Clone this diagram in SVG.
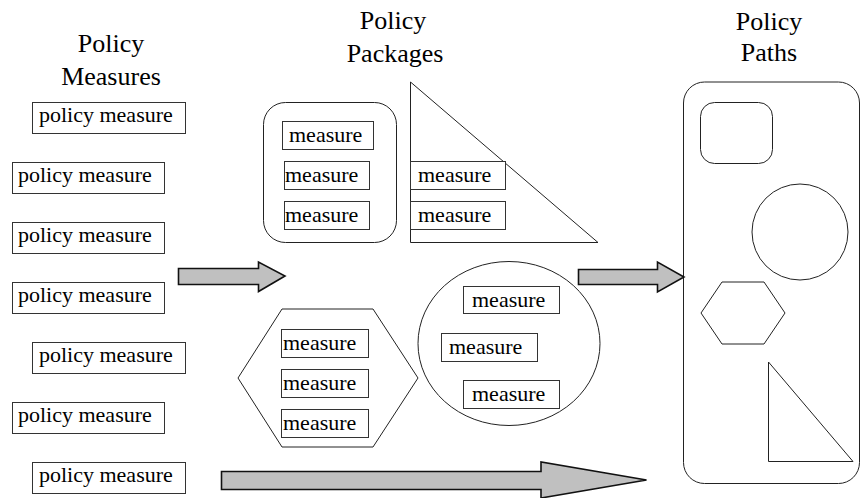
<svg xmlns="http://www.w3.org/2000/svg" width="860" height="498" viewBox="0 0 860 498" font-family="'Liberation Serif', 'Times New Roman', serif">
<style>
.h{font-size:26px;text-anchor:middle;fill:#000}
.m{font-size:22px;fill:#000}
.b{fill:#fff;stroke:#333;stroke-width:1}
.s{fill:none;stroke:#222;stroke-width:1}
.a{fill:#c0c0c0;stroke:#111;stroke-width:1.6;stroke-linejoin:miter}
</style>
<rect width="860" height="498" fill="#fff"/>
<g id="titles">
<text class="h" x="111" y="52">Policy</text>
<text class="h" x="111" y="85">Measures</text>
<text class="h" x="393" y="29">Policy</text>
<text class="h" x="395" y="62">Packages</text>
<text class="h" x="769" y="30">Policy</text>
<text class="h" x="769" y="61">Paths</text>
</g>
<g id="measures">
<g id="pm1"><rect class="b" x="32.5" y="102.5" width="153" height="31"/><text class="m" x="39" y="122">policy measure</text></g>
<g id="pm2"><rect class="b" x="12.5" y="162.5" width="152" height="31"/><text class="m" x="18" y="182">policy measure</text></g>
<g id="pm3"><rect class="b" x="12.5" y="222.5" width="152" height="31"/><text class="m" x="18" y="242">policy measure</text></g>
<g id="pm4"><rect class="b" x="12.5" y="282.5" width="152" height="31"/><text class="m" x="18" y="302">policy measure</text></g>
<g id="pm5"><rect class="b" x="32.5" y="342.5" width="153" height="31"/><text class="m" x="39" y="362">policy measure</text></g>
<g id="pm6"><rect class="b" x="12.5" y="402.5" width="152" height="31"/><text class="m" x="18" y="422">policy measure</text></g>
<g id="pm7"><rect class="b" x="32.5" y="462.5" width="153" height="31"/><text class="m" x="39" y="482">policy measure</text></g>
</g>
<g id="pkg-rounded">
<rect class="s" x="263.5" y="102.5" width="133" height="140" rx="22"/>
<rect class="b" x="282.5" y="121.5" width="91" height="28"/><text class="m" x="289" y="142">measure</text>
<rect class="b" x="284.5" y="161.5" width="85" height="28"/><text class="m" x="285" y="182">measure</text>
<rect class="b" x="284.5" y="201.5" width="85" height="28"/><text class="m" x="285" y="222">measure</text>
</g>
<g id="pkg-triangle">
<polygon class="s" points="410.5,82 410.5,242.5 598,242.5"/>
<rect class="b" x="410.5" y="161.5" width="95" height="28"/><text class="m" x="418" y="182">measure</text>
<rect class="b" x="410.5" y="201.5" width="95" height="28"/><text class="m" x="418" y="222">measure</text>
</g>
<g id="pkg-hexagon">
<polygon class="s" points="238,378 282,309 373,309 418,378 373,447 282,447"/>
<rect class="b" x="281.5" y="329.5" width="87" height="28"/><text class="m" x="283" y="350">measure</text>
<rect class="b" x="281.5" y="369.5" width="87" height="28"/><text class="m" x="283" y="390">measure</text>
<rect class="b" x="281.5" y="409.5" width="87" height="28"/><text class="m" x="283" y="430">measure</text>
</g>
<g id="pkg-ellipse">
<ellipse class="s" cx="509" cy="343.5" rx="91" ry="82"/>
<rect class="b" x="463.5" y="286.5" width="96" height="27"/><text class="m" x="472" y="307">measure</text>
<rect class="b" x="441.5" y="333.5" width="96" height="28"/><text class="m" x="449" y="354">measure</text>
<rect class="b" x="463.5" y="380.5" width="96" height="28"/><text class="m" x="472" y="401">measure</text>
</g>
<g id="paths">
<rect class="s" x="683.5" y="82" width="176" height="401.5" rx="21"/>
<rect class="s" x="700.5" y="102.5" width="72" height="61" rx="14"/>
<circle class="s" cx="800" cy="232" r="48"/>
<polygon class="s" points="701,313 722,282 764,282 785,313 764,344 722,344"/>
<polygon class="s" points="768.5,362 768.5,461.5 853,461.5"/>
</g>
<g id="connectors">
<path class="a" d="M178.5,268.5 H258.5 V262 L285,276 L258.5,291.5 V284.5 H178.5 Z"/>
<path class="a" d="M578.5,269.5 H657.5 V262 L684,277 L657.5,292 V284.5 H578.5 Z"/>
<path class="a" d="M221.5,471.5 H541 V462 L646.5,480 L541,498 V489.5 H221.5 Z"/>
</g>
</svg>
